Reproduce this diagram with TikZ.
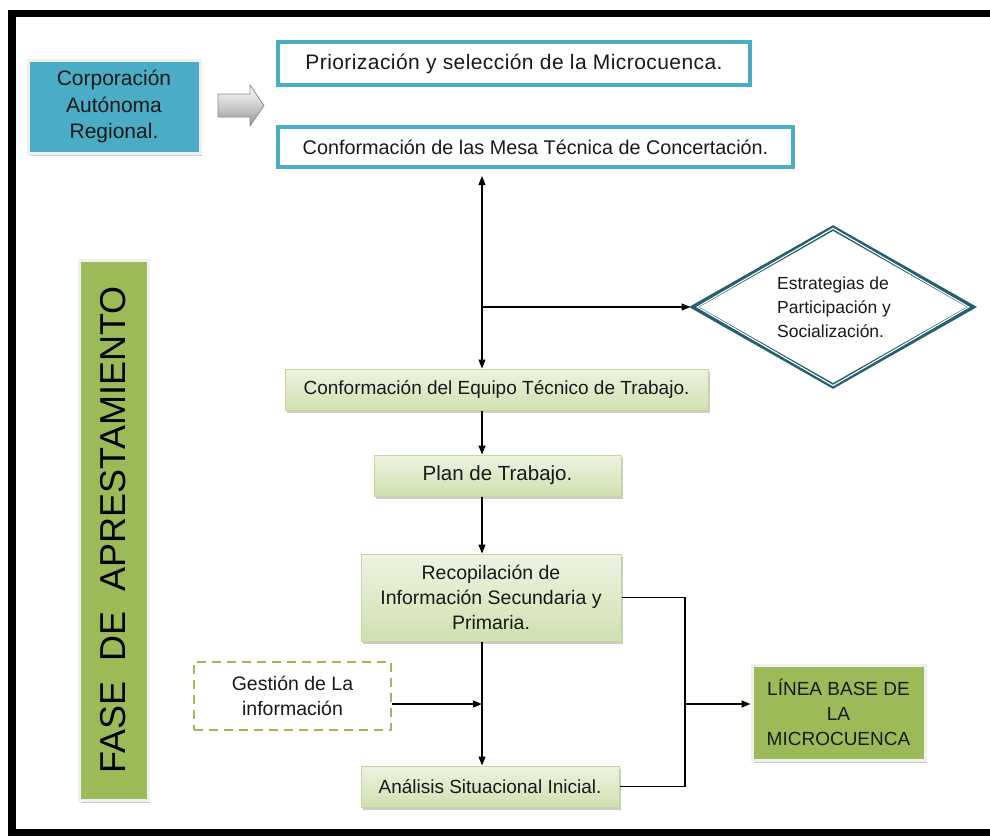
\documentclass[tikz,border=0pt]{standalone}
\usepackage{fontspec}
\setmainfont{Liberation Sans}
\usetikzlibrary{arrows.meta,shapes.geometric,shadows,calc}

\definecolor{accblue}{RGB}{75,172,198}
\definecolor{olive}{RGB}{155,187,89}
\definecolor{paletop}{RGB}{238,243,226}
\definecolor{palebot}{RGB}{208,224,176}
\definecolor{paleedge}{RGB}{195,214,155}
\definecolor{darkteal}{RGB}{38,96,110}
\definecolor{textdark}{RGB}{25,25,25}

\tikzset{
  boxshadow/.style={drop shadow={shadow xshift=1.5pt, shadow yshift=-3pt, fill=black!45, opacity=.45}},
  basebox/.style={rectangle, inner sep=0pt, align=center, text=textdark,
    font=\fontsize{19}{25}\selectfont},
  bluebox/.style={basebox, draw=accblue, line width=3.5pt, fill=white},
  greenbox/.style={basebox, draw=paleedge, line width=1pt, top color=paletop,
    bottom color=palebot, boxshadow},
  solidbox/.style={basebox, draw=black!6, line width=3pt, boxshadow},
  dashbox/.style={basebox, draw=olive, line width=2.5pt, dash pattern=on 9pt off 6pt, fill=white},
  link/.style={line width=1.3pt, draw=black},
  arrowed/.style={link, -{Triangle[length=9pt,width=7pt]}},
  twoway/.style={link, {Triangle[length=9pt,width=7pt]}-{Triangle[length=9pt,width=7pt]}}
}

\begin{document}
\begin{tikzpicture}[x=1pt,y=-1pt]
\useasboundingbox (0,0) rectangle (990,836);
\clip (0,0) rectangle (990,836);

% outer frame
\draw[line width=7.5pt, black] (12,13.5) rectangle (1010,832.5);

% top row
\node[solidbox, fill=accblue, minimum width=172pt, minimum height=93pt,
  font=\fontsize{21}{26.5}\selectfont]
  (corp) at (114,106.5) {Corporación\\Autónoma\\Regional.};
\shade[top color=white, bottom color=black!40, draw=black!45, line width=0.8pt]
  (218,94) -- (250,94) -- (250,85) -- (264,105.5) -- (250,126) -- (250,117) -- (218,117) -- cycle;

\node[bluebox, minimum width=472pt, minimum height=43pt,
  font=\fontsize{21}{25}\selectfont\addfontfeature{LetterSpace=2}]
  (prio) at (514,63.5) {Priorización y selección de la Microcuenca.};
\node[bluebox, minimum width=515pt, minimum height=40pt, font=\fontsize{19.8}{25}\selectfont]
  (mesa) at (535.5,147) {Conformación de las Mesa Técnica de Concertación.};

% strategy diamond: heavy outline split by a thin white line
\node[diamond, draw=darkteal, line width=5pt, fill=white,
  minimum width=280pt, minimum height=160pt, inner sep=0pt]
  (strat) at (833,307) {};
\draw[white, line width=1.1pt]
  ($(strat.center)!0.953!(strat.north)$) -- ($(strat.center)!0.953!(strat.east)$) --
  ($(strat.center)!0.953!(strat.south)$) -- ($(strat.center)!0.953!(strat.west)$) -- cycle;
\node[align=left, text=textdark, font=\fontsize{17.5}{24}\selectfont]
  at (834,307) {Estrategias de\\Participación y\\Socialización.};

% main chain
\node[greenbox, minimum width=423pt, minimum height=41pt]
  (equipo) at (496.5,389.5) {Conformación del Equipo Técnico de Trabajo.};
\node[greenbox, minimum width=247pt, minimum height=41pt, font=\fontsize{20.5}{25}\selectfont]
  (plan) at (497.5,475.5) {Plan de Trabajo.};
\node[greenbox, minimum width=260pt, minimum height=87pt, font=\fontsize{19.5}{25}\selectfont]
  (recop) at (491,597.5) {Recopilación de\\Información Secundaria y\\Primaria.};
\node[dashbox, minimum width=197pt, minimum height=68pt, font=\fontsize{19.5}{25}\selectfont]
  (gest) at (292.5,696) {Gestión de La\\información};
\node[greenbox, minimum width=258pt, minimum height=41pt]
  (anal) at (490,786.5) {Análisis Situacional Inicial.};
\node[solidbox, fill=olive, minimum width=173pt, minimum height=95pt]
  (linea) at (838.5,712.5) {LÍNEA BASE DE\\LA\\MICROCUENCA};

% phase label
\node[solidbox, fill=olive, minimum width=69pt, minimum height=540pt]
  (fase) at (113.5,530) {};
\node[rotate=90, text=black, font=\fontsize{36}{40}\selectfont]
  at (fase.center) {FASE\ \ DE\ \ APRESTAMIENTO};

% connectors
\coordinate (axis) at (482,0);
\coordinate (top) at (482,176);
\coordinate (split) at (482,307);
\coordinate (merge) at (482,704);
\coordinate (bus) at (685,704);

\draw[twoway] (top) -- (equipo.north -| axis);
\draw[arrowed] (split) -- (strat.west);
\draw[arrowed] (equipo.south -| axis) -- (plan.north -| axis);
\draw[arrowed] (plan.south -| axis) -- (recop.north -| axis);
\draw[arrowed] (recop.south -| axis) -- (anal.north -| axis);
\draw[arrowed] (gest.east |- merge) -- (merge);
\draw[link] (recop.east) -| (bus) |- (anal.east);
\draw[arrowed] (bus) -- (linea.west |- bus);
\end{tikzpicture}
\end{document}
